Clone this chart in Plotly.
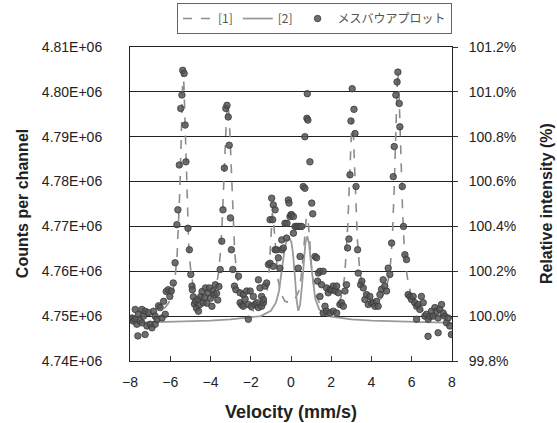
import plotly.graph_objects as go

# ---- data ----
fit1_v = [-8.00, -7.50, -7.00, -6.60, -6.30, -6.10, -5.95, -5.85, -5.75, -5.66, -5.58, -5.52, -5.47, -5.42,
          -5.37, -5.32, -5.27, -5.21, -5.15, -5.08, -5.00, -4.90, -4.75, -4.55, -4.30, -4.05, -3.85, -3.70,
          -3.60, -3.50, -3.42, -3.35, -3.28, -3.20, -3.14, -3.08, -3.02, -2.95, -2.88, -2.80, -2.70, -2.55,
          -2.35, -2.05, -1.75, -1.50, -1.32, -1.20, -1.10, -1.02, -0.97, -0.93, -0.88, -0.82, -0.74, -0.64,
          -0.50, -0.30, -0.05, 0.20, 0.38, 0.50, 0.60, 0.68, 0.75, 0.80, 0.86, 0.94, 1.02, 1.12, 1.25, 1.45,
          1.70, 1.95, 2.20, 2.40, 2.55, 2.67, 2.76, 2.83, 2.90, 2.96, 3.03, 3.09, 3.15, 3.22, 3.30, 3.40,
          3.52, 3.70, 3.95, 4.25, 4.50, 4.70, 4.85, 4.95, 5.04, 5.12, 5.18, 5.24, 5.30, 5.35, 5.41, 5.47,
          5.54, 5.62, 5.72, 5.85, 6.05, 6.35, 6.80, 7.30, 8.00]
fit1_c = [4749600, 4749900, 4750300, 4750900, 4751700, 4752800, 4754300, 4756000, 4759000, 4763500, 4770500,
          4778500, 4787000, 4797000, 4804800, 4801500, 4794000, 4783000, 4773000, 4765500, 4761000, 4757800,
          4755500, 4754000, 4753300, 4753500, 4754700, 4757000, 4759800, 4764500, 4771000, 4779000, 4788000,
          4795000, 4797000, 4795000, 4789000, 4780000, 4771500, 4764500, 4759500, 4755800, 4753200, 4751500,
          4751000, 4751600, 4753000, 4755200, 4759000, 4765000, 4770000, 4773000, 4772000, 4768000, 4762500,
          4758000, 4755000, 4753300, 4753000, 4753800, 4755500, 4758500, 4763000, 4768000, 4771500, 4772200,
          4770800, 4766000, 4761000, 4757200, 4754600, 4752600, 4751300, 4751000, 4751600, 4753000, 4755200,
          4759000, 4764500, 4771000, 4779500, 4787500, 4794000, 4791500, 4785000, 4776000, 4767000, 4761000,
          4757300, 4755000, 4753700, 4753300, 4754000, 4755800, 4758500, 4762000, 4768000, 4777500, 4788000,
          4798000, 4804600, 4802000, 4795000, 4785000, 4774000, 4766000, 4760500, 4756700, 4753700, 4751800,
          4750600, 4750000, 4749600]

fit2_v = [-8.0, -6.0, -4.0, -3.0, -2.0, -1.5, -1.0, -0.75, -0.6, -0.5, -0.4, -0.3, -0.2, -0.08, 0.02, 0.1,
          0.2, 0.28, 0.36, 0.45, 0.55, 0.63, 0.72, 0.81, 0.9, 1.0, 1.1, 1.2, 1.4, 1.7, 2.0, 3.0, 4.0, 6.0, 8.0]
fit2_c = [4748500, 4748700, 4749000, 4749300, 4749800, 4750000, 4751200, 4753000, 4755500, 4758500, 4762500,
          4765500, 4767000, 4767400, 4766500, 4764000, 4758500, 4753500, 4751200, 4752500, 4757000, 4762500,
          4766500, 4767800, 4766000, 4761500, 4757000, 4754000, 4751500, 4750300, 4749900, 4749300, 4749000,
          4748700, 4748500]

pts_v = [-7.90, -7.83, -7.74, -7.74, -7.66, -7.61, -7.58, -7.50, -7.41, -7.41, -7.33, -7.25, -7.25, -7.16,
         -7.08, -7.00, -6.91, -6.83, -6.75, -6.75, -6.66, -6.58, -6.50, -6.41, -6.33, -6.25, -6.20, -6.10,
         -6.02, -5.95, -5.85, -5.76,
         -5.67, -5.62, -5.55, -5.48, -5.42, -5.38, -5.31, -5.26, -5.22, -5.12, -5.05, -4.98, -4.92,
         -4.90, -4.85, -4.80, -4.74, -4.70, -4.64, -4.60, -4.55, -4.48, -4.42, -4.37, -4.30, -4.25, -4.18,
         -4.12, -4.06, -4.00, -3.93, -3.88, -3.82, -3.76, -3.70, -3.64, -3.58,
         -3.52, -3.44, -3.38, -3.31, -3.24, -3.18, -3.12, -3.07, -3.01, -2.96, -2.89, -2.81, -2.74,
         -2.61, -2.53, -2.53, -2.45, -2.37, -2.37, -2.28, -2.20, -2.12, -2.12, -2.03, -1.95, -1.87, -1.79,
         -1.70, -1.62, -1.62, -1.54, -1.46, -1.46, -1.37, -1.37, -1.29, -1.21, -1.12, -1.04,
         -1.04, -0.96, -0.91, -0.88, -0.79, -0.88, -0.79, -0.71, -0.63, -0.55, -0.46, -0.46, -0.38,
         -0.30, -0.22, -0.20, -0.13, -0.10, -0.05, 0.00, 0.03, 0.12, 0.12, 0.20, 0.28, 0.36, 0.45, 0.53,
         0.36, 0.45,
         0.61, 0.69, 0.69, 0.81, 0.79, 0.84, 0.94, 1.03, 1.08, 1.19, 1.27, 1.32, 1.36,
         1.44, 1.44, 1.52, 1.60, 1.60, 1.69, 1.77, 1.77, 1.85, 1.94, 1.94, 2.02, 2.10, 2.10, 2.19, 2.27,
         2.27, 2.35, 2.43, 2.51, 2.60, 2.68, 2.76,
         2.81, 2.88, 2.93, 2.98, 3.04, 3.13, 3.18, 3.23, 3.31, 3.34, 3.46,
         3.52, 3.59, 3.67, 3.75, 3.84, 3.92, 4.00, 4.09, 4.17, 4.25, 4.33, 4.42, 4.50, 4.58, 4.66, 4.75,
         4.83, 4.91,
         5.00, 5.08, 5.13, 5.21, 5.27, 5.31, 5.38, 5.41, 5.53, 5.59, 5.66, 5.74,
         5.82, 5.91, 5.99, 6.07, 6.15, 6.24, 6.24, 6.32, 6.40, 6.48, 6.57, 6.65, 6.73, 6.81, 6.82, 6.90,
         6.98, 7.06, 7.15, 7.23, 7.31, 7.31, 7.39, 7.48, 7.56, 7.64, 7.73, 7.81, 7.89, 7.97]
pts_c = [4749600, 4748900, 4751500, 4749300, 4748200, 4745600, 4750400, 4749000, 4751500, 4748500, 4750000,
         4751100, 4745900, 4747800, 4750800, 4748200, 4747400, 4751100, 4750000, 4748200, 4749300, 4752300,
         4751900, 4749600, 4753300, 4750400, 4755500, 4755900, 4754400, 4755600, 4757400, 4761900,
         4770400, 4773700, 4783700, 4796300, 4799300, 4804800, 4804100, 4792600, 4784400, 4769600, 4764800,
         4759300, 4756700,
         4755900, 4754300, 4752700, 4753300, 4751800, 4753700, 4751100, 4752500, 4754400, 4755500, 4753000,
         4754100, 4756300, 4752900, 4755200, 4756300, 4754000, 4752200, 4755600, 4754800, 4757000, 4755100,
         4753600, 4756600,
         4760400, 4766700, 4773700, 4783000, 4796300, 4797000, 4794400, 4788100, 4771900, 4764800, 4760400,
         4756700, 4755900,
         4758900, 4755200, 4753000, 4752500, 4754800, 4752200, 4753800, 4755600, 4752600, 4749300, 4755600,
         4752200, 4754400, 4752600, 4753000, 4758100, 4751900, 4756300, 4754400, 4752200, 4753000, 4753700,
         4756700, 4757400, 4761500, 4761800,
         4771500, 4776300, 4771500, 4774800, 4773700, 4761100, 4764800, 4764800, 4763000, 4760700, 4764800,
         4767000, 4765200,
         4770700, 4767400, 4770700, 4775900, 4775200, 4772200, 4772600, 4772600, 4772200, 4768500, 4770000,
         4770000, 4770000, 4770000, 4770000,
         4760700, 4763300,
         4778900, 4778500, 4790000, 4799600, 4794100, 4793700, 4784400, 4775200, 4772800, 4763300, 4763000,
         4757800, 4759600,
         4760000, 4754400, 4757000, 4760000, 4750700, 4752200, 4756300, 4751100, 4755200, 4755900, 4750700,
         4755900, 4756700, 4751100, 4755600, 4756700, 4750700, 4755200, 4752600, 4753000, 4752200, 4755600,
         4757000,
         4765200, 4767200, 4781500, 4793500, 4800700, 4796100, 4790700, 4778900, 4764800, 4759600, 4757000,
         4757800, 4756300, 4753700, 4754800, 4752600, 4754400, 4752900, 4753000, 4752200, 4753300, 4752200,
         4754800, 4756000, 4758100, 4756700, 4755600, 4760700, 4759300,
         4766300, 4781100, 4787800, 4799300, 4802200, 4804400, 4797400, 4792200, 4778900, 4770000, 4763700,
         4762600,
         4754800, 4754400, 4753700, 4754400, 4753000, 4752200, 4749300, 4752600, 4751500, 4754400, 4753000,
         4750000, 4750400, 4745500, 4749300, 4750000, 4751100, 4750000, 4751900, 4751100, 4749600, 4746300,
         4751500, 4752600, 4750700, 4750000, 4748500, 4749600, 4747800, 4745900]

x_ticks = [-8, -6, -4, -2, 0, 2, 4, 6, 8]
left_ticks = [4740000, 4750000, 4760000, 4770000, 4780000, 4790000, 4800000, 4810000]
left_labels = ["4.74E+06", "4.75E+06", "4.76E+06", "4.77E+06", "4.78E+06", "4.79E+06", "4.80E+06", "4.81E+06"]
right_ticks = [99.8, 100.0, 100.2, 100.4, 100.6, 100.8, 101.0, 101.2]
right_labels = ["99.8%", "100.0%", "100.2%", "100.4%", "100.6%", "100.8%", "101.0%", "101.2%"]
series_names = ["[1]", "[2]", "メスバウアプロット"]

FONT = "Liberation Sans, Arial, sans-serif"

fig = go.Figure()
fig.add_trace(go.Scatter(x=fit1_v, y=fit1_c, mode="lines", name=series_names[0],
                         line=dict(color="#8c8c8c", width=1.6, dash="dash"), hoverinfo="skip"))
fig.add_trace(go.Scatter(x=fit2_v, y=fit2_c, mode="lines", name=series_names[1],
                         line=dict(color="#9a9a9a", width=1.8), hoverinfo="skip"))
fig.add_trace(go.Scatter(x=pts_v, y=pts_c, mode="markers", name=series_names[2],
                         marker=dict(size=6.5, color="rgba(85,85,85,0.85)",
                                     line=dict(width=0.8, color="#3a3a3a"))))
fig.add_trace(go.Scatter(x=[None], y=[None], yaxis="y2", showlegend=False, hoverinfo="skip"))

fig.update_layout(
    width=557, height=423,
    margin=dict(l=130, r=105, t=47, b=62, autoexpand=False),
    paper_bgcolor="white", plot_bgcolor="white",
    font=dict(family=FONT, size=14, color="#222"),
    showlegend=True,
    legend=dict(orientation="h", x=1.0, xanchor="right", y=1.14, yanchor="top",
                bordercolor="#666", borderwidth=1, bgcolor="white",
                font=dict(family="Noto Sans CJK JP, Liberation Sans, sans-serif", size=12, color="#555"),
                itemwidth=30, tracegroupgap=0),
    xaxis=dict(range=[-8, 8], tickvals=x_ticks, ticks="inside", ticklen=5, tickcolor="#333",
               showline=True, linecolor="#222", linewidth=1, mirror=True, showgrid=False, zeroline=False,
               ticklabelstandoff=8, tickfont=dict(size=14)),
    yaxis=dict(range=[4740000, 4810000], tickvals=left_ticks, ticktext=left_labels, ticks="",
               showline=True, linecolor="#222", linewidth=1, mirror=True,
               showgrid=True, gridcolor="#222", gridwidth=1, zeroline=False,
               ticklabelstandoff=24, tickfont=dict(size=14)),
    yaxis2=dict(range=[99.8, 101.2], tickvals=right_ticks, ticktext=right_labels, overlaying="y",
                side="right", ticks="outside", ticklen=5, tickcolor="#333", showgrid=False,
                zeroline=False, showline=False, ticklabelstandoff=8, tickfont=dict(size=14)),
    annotations=[
        dict(text="<b>Velocity (mm/s)</b>", xref="paper", yref="paper", x=0.5, y=-0.162,
             xanchor="center", yanchor="middle", showarrow=False, font=dict(size=18, color="#222")),
        dict(text="<b>Counts per channel</b>", xref="paper", yref="paper", x=-0.335, y=0.5,
             xanchor="center", yanchor="middle", textangle=-90, showarrow=False,
             font=dict(size=16, color="#222")),
        dict(text="<b>Relative intensity (%)</b>", xref="paper", yref="paper", x=1.292, y=0.5,
             xanchor="center", yanchor="middle", textangle=-90, showarrow=False,
             font=dict(size=16, color="#222")),
    ],
)

# remove the browser's default page margin so the figure sits at the window origin
fig.write_html("out.html", config={"displayModeBar": False},
               post_script="document.body.style.margin='0';document.body.style.overflow='hidden';")
